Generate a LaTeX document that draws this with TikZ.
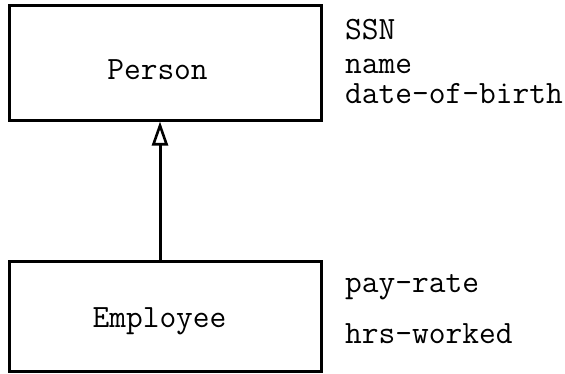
\documentclass[tikz,border=0pt]{standalone}
\usetikzlibrary{arrows.meta}
\tikzset{
  classbox/.style={draw, line width=3pt, inner sep=0pt},
  lbl/.style={inner sep=0pt, font=\ttfamily\fontsize{32.5}{38}\selectfont},
  inherit/.style={line width=3pt, -{Triangle[open, length=24pt, width=16pt, line width=2.6pt]}}
}
\begin{document}
\begin{tikzpicture}[x=1pt,y=-1pt]
\useasboundingbox (0,0) rectangle (565,373);
\node[classbox, minimum width=312pt, minimum height=115pt] (person) at (165,62.5) {};
\node[classbox, minimum width=312pt, minimum height=110pt] (employee) at (165,316) {};
\node[lbl, anchor=base] (plabel) at (157.5,79) {Person};
\node[lbl, anchor=base] (elabel) at (159.5,327) {Employee};
\node[lbl, anchor=base west] (ssn) at (345,39) {SSN};
\node[lbl, anchor=base west] (name) at (345,73) {name};
\node[lbl, anchor=base west] (dob) at (345,103) {date-of-birth};
\node[lbl, anchor=base west] (pay) at (345,292) {pay-rate};
\node[lbl, anchor=base west] (hrs) at (345,343) {hrs-worked};
\coordinate (etop) at (160,261);
\coordinate (pbot) at (160,120);
\draw[inherit] (employee.north -| etop) -- (person.south -| pbot);
\end{tikzpicture}
\end{document}
